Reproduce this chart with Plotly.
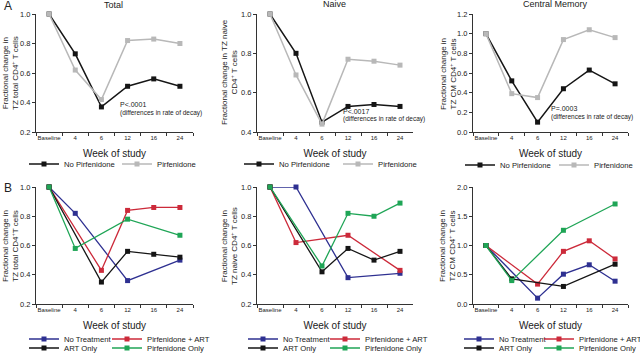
import plotly.graph_objects as go

W, H = 640, 356
def px(x): return x / W
def py(y): return 1 - y / H

weeks = ["Baseline", "4", "6", "12", "16", "24"]

# Panel A (top row)
total_no_pirf = [1.0, 0.73, 0.37, 0.51, 0.56, 0.51]
total_pirf = [1.0, 0.62, 0.42, 0.82, 0.83, 0.80]
naive_no_pirf = [1.0, 0.80, 0.45, 0.53, 0.54, 0.53]
naive_pirf = [1.0, 0.69, 0.44, 0.77, 0.76, 0.74]
cm_no_pirf = [1.0, 0.52, 0.10, 0.44, 0.63, 0.49]
cm_pirf = [1.0, 0.39, 0.35, 0.94, 1.04, 0.96]

# Panel B (bottom row); None = no measurement (line connects across)
total_no_trt = [1.0, 0.82, None, 0.36, None, 0.50]
total_pirf_art = [1.0, None, 0.43, 0.84, 0.86, 0.86]
total_art = [1.0, None, 0.35, 0.56, 0.54, 0.52]
total_pirf_only = [1.0, 0.58, None, 0.78, None, 0.67]
naive_no_trt = [1.0, 1.0, None, 0.38, None, 0.41]
naive_pirf_art = [1.0, 0.62, None, 0.67, None, 0.43]
naive_art = [1.0, None, 0.42, 0.58, 0.50, 0.56]
naive_pirf_only = [1.0, None, 0.46, 0.82, 0.80, 0.89]
cm_no_trt = [1.0, None, 0.10, 0.51, 0.67, 0.39]
cm_pirf_art = [1.0, None, 0.34, 0.90, 1.08, 0.77]
cm_art = [1.0, 0.43, None, 0.30, None, 0.68]
cm_pirf_only = [1.0, 0.40, None, 1.26, None, 1.71]

BLACK = "#151515"
GRAY = "#b8b8b8"
BLUE = "#2e3091"
RED = "#cc2a3a"
GREEN = "#1fa556"
FONT = "Liberation Sans, Arial, sans-serif"
TXT = "#222"

fig = go.Figure()
legends = {}
legfont = dict(size=7.7, family=FONT, color=TXT)
leg_count = [0]

def add(y, name, color, ax, text_x, text_y, width=1.5):
    leg_count[0] += 1
    n = leg_count[0]
    lname = "legend" if n == 1 else "legend%d" % n
    legends[lname] = dict(
        x=px(text_x - 38), y=py(text_y), xanchor="left", yanchor="middle",
        font=legfont, bgcolor="rgba(0,0,0,0)", itemwidth=30,
        borderwidth=0,
    )
    fig.add_trace(go.Scatter(
        x=weeks, y=y, name=name, mode="lines+markers",
        line=dict(color=color, width=width),
        marker=dict(symbol="square", size=5, color=color),
        connectgaps=True, cliponaxis=False,
        xaxis="x" + ("" if ax == 1 else str(ax)),
        yaxis="y" + ("" if ax == 1 else str(ax)),
        legend=lname, showlegend=True))

# top row
add(total_no_pirf, "No Pirfenidone", BLACK, 1, 62, 164)
add(total_pirf, "Pirfenidone", GRAY, 1, 155, 164)
add(naive_no_pirf, "No Pirfenidone", BLACK, 2, 277, 164)
add(naive_pirf, "Pirfenidone", GRAY, 2, 376, 164)
add(cm_no_pirf, "No Pirfenidone", BLACK, 3, 498, 165)
add(cm_pirf, "Pirfenidone", GRAY, 3, 592, 165)

# bottom row
bottom = [
    (4, total_no_trt, total_pirf_art, total_art, total_pirf_only, 62, 145),
    (5, naive_no_trt, naive_pirf_art, naive_art, naive_pirf_only, 281, 363),
    (6, cm_no_trt, cm_pirf_art, cm_art, cm_pirf_only, 497, 577),
]
for ax, nt, pa, art, po, c1, c2 in bottom:
    add(nt, "No Treatment", BLUE, ax, c1, 339, 1.3)
    add(pa, "Pirfenidone + ART", RED, ax, c2, 339, 1.3)
    add(art, "ART Only", BLACK, ax, c1, 348, 1.3)
    add(po, "Pirfenidone Only", GREEN, ax, c2, 348, 1.3)

xdoms = [(36, 193), (257, 413), (473, 628)]
top_y = (14, 132)
bot_y = (187, 304)
yranges = [(0.2, 1.0, 0.2), (0.4, 1.0, 0.2), (0.0, 1.2, 0.2),
           (0.2, 1.0, 0.2), (0.2, 1.0, 0.2), (0.0, 2.0, 0.5)]

layout = dict(
    width=W, height=H, margin=dict(l=0, r=0, t=0, b=0, autoexpand=False),
    plot_bgcolor="white", paper_bgcolor="white",
    font=dict(family=FONT, color=TXT),
)
layout.update(legends)
for i in range(6):
    col = i % 3
    row = i // 3
    xa = "xaxis" if i == 0 else "xaxis%d" % (i + 1)
    ya = "yaxis" if i == 0 else "yaxis%d" % (i + 1)
    yd = top_y if row == 0 else bot_y
    lo, hi, step = yranges[i]
    layout[xa] = dict(
        domain=[px(xdoms[col][0]), px(xdoms[col][1])],
        anchor="y" if i == 0 else "y%d" % (i + 1),
        type="category", range=[-0.5, 5.5],
        tickson="boundaries", ticks="outside", ticklen=3, tickwidth=1,
        tickcolor="#333", showline=True, linecolor="#333", linewidth=1,
        showgrid=False, zeroline=False, tickangle=0,
        tickfont=dict(size=6, family=FONT, color=TXT),
        title=dict(text="Week of study", font=dict(size=10, family=FONT, color=TXT), standoff=9),
    )
    layout[ya] = dict(
        domain=[py(yd[1]), py(yd[0])],
        anchor="x" if i == 0 else "x%d" % (i + 1),
        range=[lo, hi], dtick=step, tick0=lo, tickformat=".1f",
        ticks="outside", ticklen=3, tickwidth=1, tickcolor="#333",
        showline=True, linecolor="#333", linewidth=1,
        showgrid=False, zeroline=False,
        tickfont=dict(size=7.5, family=FONT, color=TXT),
    )

fig.update_layout(**layout)

def ann(text, x, y, size=8, angle=0, xanchor="center", yanchor="middle", align="center"):
    fig.add_annotation(text=text, x=px(x), y=py(y), xref="paper", yref="paper",
                       showarrow=False, textangle=angle, xanchor=xanchor, yanchor=yanchor,
                       align=align, font=dict(size=size, family=FONT, color=TXT))

# panel letters & titles
ann("A", 2, 6, size=12, xanchor="left")
ann("B", 2, 188, size=12, xanchor="left")
ann("Total", 113, 5, size=9)
ann("Naive", 334, 4, size=9)
ann("Central Memory", 555, 4, size=9)

# y-axis titles
ann("Fractional change in<br>TZ total CD4<sup>+</sup> T cells", 10, 73, angle=-90)
ann("Fractional change in TZ naive<br>CD4<sup>+</sup> T cells", 229, 72, angle=-90)
ann("Fractional change in<br>TZ CM CD4<sup>+</sup> T cells", 449, 74, angle=-90)
ann("Fractional change in<br>TZ total CD4<sup>+</sup>T cells", 10, 246, angle=-90)
ann("Fractional change in<br>TZ naive CD4<sup>+</sup> T cells", 229, 246, angle=-90)
ann("Fractional change in<br>TZ CM CD4<sup>+</sup> T cells", 447, 246, angle=-90)

# p-value notes
notes = [("P<.0001", 118, 104, 113), ("P<.0017", 341, 111, 119), ("P=.0003", 549, 108, 117)]
for p, x, y1, y2 in notes:
    ann(p, x, y1, size=7, xanchor="left")
    ann("(differences in rate of decay)", x, y2, size=6.5, xanchor="left")

fig.write_html("out.html", config={"displayModeBar": False},
               post_script="document.body.style.margin='0';")
